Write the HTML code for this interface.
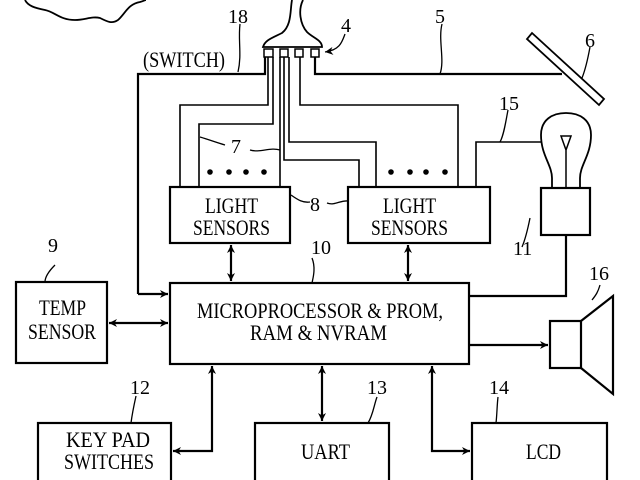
<!DOCTYPE html>
<html><head><meta charset="utf-8"><style>
html,body{margin:0;padding:0;background:#fff;}
svg{display:block;}
text{font-family:"Liberation Serif","Times New Roman",serif;fill:#000;}
</style></head><body>
<svg width="640" height="480" viewBox="0 0 640 480" xmlns="http://www.w3.org/2000/svg">
<defs>
<marker id="a" viewBox="0 0 10 10" refX="10" refY="5" markerWidth="8" markerHeight="8" orient="auto-start-reverse" markerUnits="userSpaceOnUse"><path d="M0,0 L10,5 L0,10 L3,5 z" fill="#000" stroke="none"/></marker>
</defs>
<g fill="none" stroke="#000" stroke-width="2.2">
<path d="M25,0 C28,6 35,8 45,10 C55,12 60,20 75,20 C85,20 92,16 100,18 C108,22 112,24 118,20 C125,14 128,4 140,2 C144,1 145,0 146,0" stroke-width="1.8"/>
<path d="M292,0 C290,10 292,25 282,33 C272,38 265,40 263,47 L322,47 C322,40 313,38 307,32 C300,24 298,10 303,0" stroke-width="1.8"/>
<rect x="264" y="49" width="9" height="8" stroke-width="1.5"/>
<rect x="280" y="49" width="8" height="8" stroke-width="1.5"/>
<rect x="295" y="49" width="8" height="8" stroke-width="1.5"/>
<rect x="311" y="49" width="8" height="8" stroke-width="1.5"/>
<path d="M265,57 L265,74 L138,74 L138,294"/>
<path d="M138,294 L168,294" marker-end="url(#a)"/>
<path d="M315,57 L315,74 L562,74"/>
<polygon points="532,33 604,99 599,105 527,39" stroke-width="1.8"/>
<path d="M268,57 L268,105 L180,105 L180,187" stroke-width="1.6"/>
<path d="M273,57 L273,124 L199,124 L199,187" stroke-width="1.6"/>
<path d="M280,57 L280,187" stroke-width="1.6"/>
<path d="M284,57 L284,160 L359,160 L359,187" stroke-width="1.6"/>
<path d="M289,57 L289,142 L376,142 L376,187" stroke-width="1.6"/>
<path d="M300,57 L300,105 L458,105 L458,187" stroke-width="1.6"/>
<path d="M476,187 L476,142 L542,142" stroke-width="1.6"/>
<path d="M552,188 L552,178 C552,165 541,155 541,135 C541,120 552,113 566,113 C580,113 591,120 591,135 C591,155 580,165 580,178 L580,188" stroke-width="1.8"/>
<path d="M566,188 L566,150 M566,150 L561,136 L571,136 Z" stroke-width="1.5"/>
<rect x="541" y="188" width="49" height="47"/>
<rect x="170" y="187" width="120" height="56"/>
<rect x="348" y="187" width="142" height="56"/>
<rect x="170" y="283" width="299" height="81"/>
<rect x="16" y="282" width="91" height="81"/>
<rect x="38" y="423" width="133" height="60"/>
<rect x="255" y="423" width="134" height="60"/>
<rect x="472" y="423" width="135" height="60"/>
<path d="M231,245 L231,281" marker-start="url(#a)" marker-end="url(#a)"/>
<path d="M408,245 L408,281" marker-start="url(#a)" marker-end="url(#a)"/>
<path d="M109,323 L168,323" marker-start="url(#a)" marker-end="url(#a)"/>
<path d="M469,296 L566,296 L566,235"/>
<path d="M469,345 L548,345" marker-end="url(#a)"/>
<path d="M212,366 L212,451 L173,451" marker-start="url(#a)" marker-end="url(#a)"/>
<path d="M322,366 L322,421" marker-start="url(#a)" marker-end="url(#a)"/>
<path d="M432,366 L432,451 L470,451" marker-start="url(#a)" marker-end="url(#a)"/>
<rect x="550" y="321" width="31" height="47"/>
<path d="M581,321 L613,296 L613,394 L581,368"/>
<g stroke-width="1.3">
<path d="M240,24 C238,40 242,55 238,72"/>
<path d="M345,34 C342,42 340,50 325,52" marker-end="url(#a)"/>
<path d="M442,24 C438,40 445,60 440,74"/>
<path d="M590,47 C588,58 586,68 582,78"/>
<path d="M508,110 C506,120 504,135 500,142"/>
<path d="M200,137 C210,140 215,142 225,145"/>
<path d="M250,150 C260,153 270,147 280,150"/>
<path d="M291,195 C298,200 303,203 310,202"/>
<path d="M327,203 C335,206 340,200 348,201"/>
<path d="M530,218 C528,228 525,240 522,247"/>
<path d="M312,258 C316,268 313,278 312,283"/>
<path d="M55,265 C48,272 45,278 45,282"/>
<path d="M600,285 C598,292 596,295 592,300"/>
<path d="M136,396 C134,405 132,415 131,423"/>
<path d="M377,397 C374,405 373,415 368,423"/>
<path d="M498,397 C497,405 497,415 496,423"/>
</g>
</g>
<g fill="#000">
<circle cx="210" cy="172" r="2.8"/><circle cx="229" cy="172" r="2.8"/><circle cx="246" cy="172" r="2.8"/><circle cx="264" cy="172" r="2.8"/>
<circle cx="391" cy="172" r="2.8"/><circle cx="410" cy="172" r="2.8"/><circle cx="426" cy="172" r="2.8"/><circle cx="445" cy="172" r="2.8"/>
</g>
<g font-size="22" font-family="Liberation Serif, serif" fill="#000">
<text x="205" y="213" textLength="53" lengthAdjust="spacingAndGlyphs">LIGHT</text>
<text x="193" y="235" textLength="77" lengthAdjust="spacingAndGlyphs">SENSORS</text>
<text x="383" y="213" textLength="53" lengthAdjust="spacingAndGlyphs">LIGHT</text>
<text x="371" y="235" textLength="77" lengthAdjust="spacingAndGlyphs">SENSORS</text>
<text x="39" y="315" textLength="47" lengthAdjust="spacingAndGlyphs">TEMP</text>
<text x="28" y="339" textLength="68" lengthAdjust="spacingAndGlyphs">SENSOR</text>
<text x="197" y="318" textLength="246" lengthAdjust="spacingAndGlyphs">MICROPROCESSOR &amp; PROM,</text>
<text x="250" y="340" textLength="137" lengthAdjust="spacingAndGlyphs">RAM &amp; NVRAM</text>
<text x="66" y="447" textLength="84" lengthAdjust="spacingAndGlyphs">KEY PAD</text>
<text x="64" y="469" textLength="90" lengthAdjust="spacingAndGlyphs">SWITCHES</text>
<text x="301" y="459" textLength="49" lengthAdjust="spacingAndGlyphs">UART</text>
<text x="526" y="459" textLength="35" lengthAdjust="spacingAndGlyphs">LCD</text>
<text x="143" y="67" textLength="82" lengthAdjust="spacingAndGlyphs">(SWITCH)</text>
</g>
<g font-size="20" font-family="Liberation Serif, serif" fill="#000">
<text x="228" y="23">18</text>
<text x="341" y="32">4</text>
<text x="435" y="23">5</text>
<text x="585" y="47">6</text>
<text x="499" y="110">15</text>
<text x="231" y="153">7</text>
<text x="310" y="211">8</text>
<text x="513" y="255">11</text>
<text x="48" y="252">9</text>
<text x="311" y="254">10</text>
<text x="589" y="280">16</text>
<text x="130" y="394">12</text>
<text x="367" y="394">13</text>
<text x="489" y="394">14</text>
</g>
</svg>
</body></html>
